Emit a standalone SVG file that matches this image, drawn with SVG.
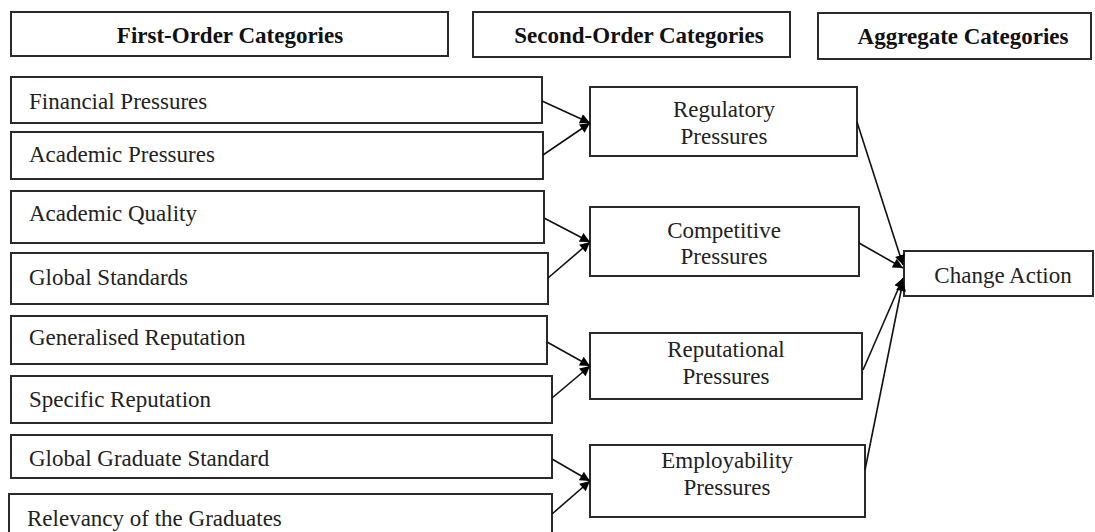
<svg xmlns="http://www.w3.org/2000/svg" width="1095" height="532" viewBox="0 0 1095 532">
<defs>
<style>
.box{fill:#fff;stroke:#2a2a2a;stroke-width:2}
.h{font-family:"Liberation Serif",serif;font-weight:bold;font-size:23px;fill:#111;text-anchor:middle}
.t{font-family:"Liberation Serif",serif;font-size:23px;fill:#222}
.c{font-family:"Liberation Serif",serif;font-size:23px;fill:#222;text-anchor:middle}
.ln{stroke:#111;stroke-width:1.6;fill:none;marker-end:url(#ah)}
</style>
<marker id="ah" viewBox="0 0 10 10" refX="10" refY="5" markerWidth="11" markerHeight="10" orient="auto" markerUnits="userSpaceOnUse">
<path d="M0,0 L10,5 L0,10 z" fill="#000"/>
</marker>
</defs>
<rect width="1095" height="532" fill="#fff"/>
<g id="hdr1"><rect class="box" x="11" y="12" width="437" height="44"/><text class="h" x="230" y="43">First-Order Categories</text></g>
<g id="hdr2"><rect class="box" x="473" y="12" width="317" height="45"/><text class="h" x="639" y="43">Second-Order Categories</text></g>
<g id="hdr3"><rect class="box" x="818" y="13" width="273" height="46"/><text class="h" x="963" y="44">Aggregate Categories</text></g>

<g id="f1"><rect class="box" x="11" y="77" width="531" height="46"/><text class="t" x="29" y="109">Financial Pressures</text></g>
<g id="f2"><rect class="box" x="11" y="132" width="532" height="47"/><text class="t" x="29" y="162">Academic Pressures</text></g>
<g id="f3"><rect class="box" x="11" y="191" width="533" height="52"/><text class="t" x="29" y="221">Academic Quality</text></g>
<g id="f4"><rect class="box" x="11" y="253" width="537" height="51"/><text class="t" x="29" y="285">Global Standards</text></g>
<g id="f5"><rect class="box" x="11" y="316" width="536" height="48"/><text class="t" x="29" y="345">Generalised Reputation</text></g>
<g id="f6"><rect class="box" x="11" y="376" width="541" height="47"/><text class="t" x="29" y="407">Specific Reputation</text></g>
<g id="f7"><rect class="box" x="11" y="435" width="541" height="43"/><text class="t" x="29" y="466">Global Graduate Standard</text></g>
<g id="f8"><rect class="box" x="9" y="494" width="543" height="50"/><text class="t" x="27" y="526">Relevancy of the Graduates</text></g>

<g id="s1"><rect class="box" x="590" y="87" width="267" height="69"/><text class="c" x="724" y="117">Regulatory</text><text class="c" x="724" y="144">Pressures</text></g>
<g id="s2"><rect class="box" x="590" y="207" width="269" height="69"/><text class="c" x="724" y="238">Competitive</text><text class="c" x="724" y="264">Pressures</text></g>
<g id="s3"><rect class="box" x="590" y="333" width="272" height="66"/><text class="c" x="726" y="357">Reputational</text><text class="c" x="726" y="384">Pressures</text></g>
<g id="s4"><rect class="box" x="590" y="445" width="275" height="72"/><text class="c" x="727" y="468">Employability</text><text class="c" x="727" y="495">Pressures</text></g>

<g id="agg"><rect class="box" x="904" y="251" width="189" height="45"/><text class="c" x="1003" y="283">Change Action</text></g>

<g id="connectors">
<line class="ln" x1="542" y1="101" x2="590" y2="123"/>
<line class="ln" x1="543" y1="155" x2="590" y2="123"/>
<line class="ln" x1="544" y1="218" x2="590" y2="242"/>
<line class="ln" x1="548" y1="278" x2="590" y2="242"/>
<line class="ln" x1="547" y1="342" x2="590" y2="366"/>
<line class="ln" x1="552" y1="398" x2="590" y2="366"/>
<line class="ln" x1="552" y1="459" x2="590" y2="481"/>
<line class="ln" x1="552" y1="514" x2="590" y2="481"/>
<line class="ln" x1="857" y1="122" x2="903" y2="265"/>
<line class="ln" x1="859" y1="243" x2="903" y2="268"/>
<line class="ln" x1="863" y1="370" x2="903" y2="278"/>
<line class="ln" x1="865" y1="470" x2="903" y2="281"/>
</g>
</svg>
